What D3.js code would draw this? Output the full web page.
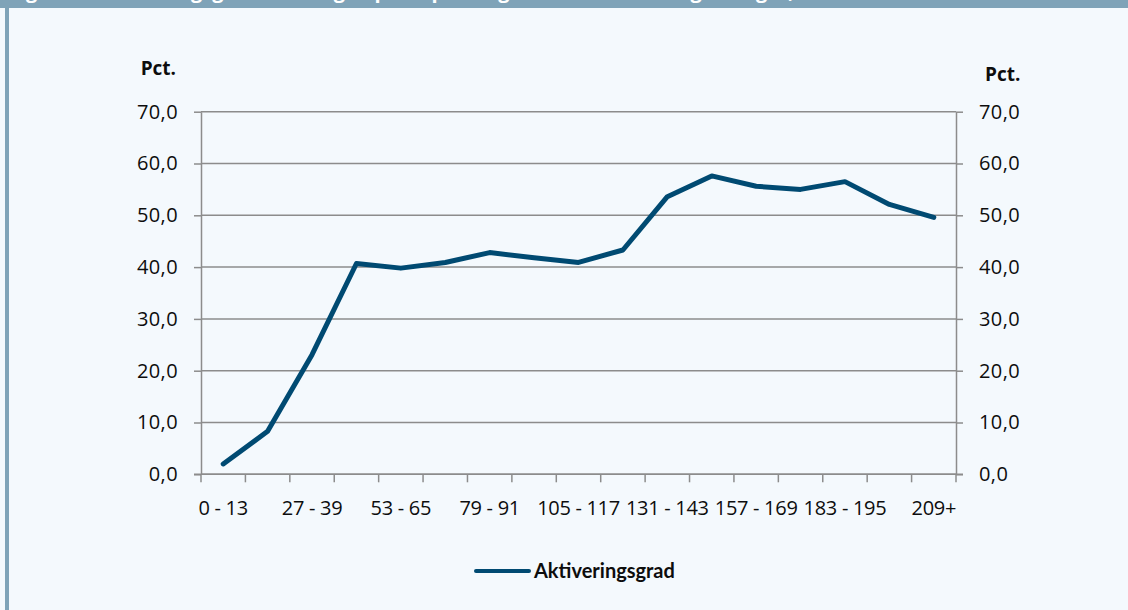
<!DOCTYPE html>
<html>
<head>
<meta charset="utf-8">
<script src="https://cdn.jsdelivr.net/npm/d3@7"></script>
<style>
  body { margin: 0; background: #f4f9fd; }
  svg { display: block; }
</style>
</head>
<body>
<div id="chart"></div>
<script>
// uger i ledighed
let categories = ["0 - 13", "14 - 26", "27 - 39", "40 - 52", "53 - 65", "66 - 78", "79 - 91",
  "92 - 104", "105 - 117", "118 - 130", "131 - 143", "144 - 156", "157 - 169", "170 - 182",
  "183 - 195", "196 - 208", "209+"];
let aktivering = [2.0, 8.3, 23.1, 40.7, 39.8, 40.9, 42.8, 41.8, 40.9, 43.3, 53.6, 57.6, 55.6,
  55.0, 56.5, 52.1, 49.6];
let yTicks = [0, 10, 20, 30, 40, 50, 60, 70];
let seriesName = "Aktiveringsgrad";
let titleText = "Figur 3.1 Aktiveringsgrad for ledige opdelt på ledighedsforløbets længde i uger, 2014";

let width = 1128, height = 610;
let plotLeft = 201, plotRight = 956, plotTop = 111.7, plotBottom = 474.3;
let gridColor = "#8c8c8c", lineColor = "#004a72", frameColor = "#7fa3b8";

let svg = d3.select("#chart").append("svg")
  .attr("width", width)
  .attr("height", height)
  .style("background", "#f4f9fd");

// ramme
svg.append("rect").attr("x", 0).attr("y", 0).attr("width", width).attr("height", 8).attr("fill", frameColor);
svg.append("rect").attr("x", 5).attr("y", 0).attr("width", 4).attr("height", height).attr("fill", frameColor);
svg.append("text")
  .attr("x", 9).attr("y", -2)
  .attr("fill", "#fff")
  .style("font-family", "'Open Sans', sans-serif")
  .style("font-weight", "bold")
  .style("font-size", "20px")
  .text(titleText);

let x = d3.scaleBand().domain(categories).range([plotLeft, plotRight]).paddingInner(0).paddingOuter(0);
let y = d3.scaleLinear().domain([0, 70]).range([plotBottom, plotTop]);
let fmt = d => d.toFixed(1).replace(".", ",");

// gitterlinjer
svg.append("g").selectAll("line")
  .data(yTicks)
  .enter().append("line")
  .attr("x1", plotLeft).attr("x2", plotRight)
  .attr("y1", d => y(d)).attr("y2", d => y(d))
  .attr("stroke", gridColor)
  .attr("stroke-width", 1.5);

let tickFont = g => g.selectAll("text")
  .style("font-family", "'Open Sans', sans-serif")
  .style("font-size", "20px")
  .attr("fill", "#0d0d0d");

let yLeft = svg.append("g")
  .attr("transform", "translate(" + plotLeft + ",0)")
  .call(d3.axisLeft(y).tickValues(yTicks).tickFormat(fmt).tickSize(7).tickPadding(16).tickSizeOuter(0));
let yRight = svg.append("g")
  .attr("transform", "translate(" + plotRight + ",0)")
  .call(d3.axisRight(y).tickValues(yTicks).tickFormat(fmt).tickSize(7).tickPadding(16).tickSizeOuter(0));
[yLeft, yRight].forEach(g => {
  g.select(".domain").attr("stroke", gridColor).attr("stroke-width", 1.5);
  g.selectAll(".tick line").attr("stroke", gridColor).attr("stroke-width", 1.5);
  g.call(tickFont);
  g.selectAll("text").style("letter-spacing", "0.4px");
});

// x-akse: streger ved kategorigrænser, etiketter på hver anden
let xAxis = svg.append("g")
  .attr("transform", "translate(0," + plotBottom + ")")
  .call(d3.axisBottom(x).tickSize(0).tickPadding(27)
    .tickFormat((d, i) => i % 2 === 0 ? d : ""));
xAxis.select(".domain").remove();
xAxis.call(tickFont);
xAxis.selectAll("text").style("letter-spacing", "-0.3px");
let bounds = categories.map(c => x(c)).concat([plotRight]);
xAxis.selectAll(".bound")
  .data(bounds)
  .enter().append("line")
  .attr("class", "bound")
  .attr("x1", d => d).attr("x2", d => d)
  .attr("y1", 0).attr("y2", 8)
  .attr("stroke", gridColor)
  .attr("stroke-width", 1.5);
svg.append("line")
  .attr("x1", plotLeft - 7).attr("x2", plotRight + 7)
  .attr("y1", plotBottom).attr("y2", plotBottom)
  .attr("stroke", gridColor).attr("stroke-width", 1.5);

// Pct. etiketter
svg.append("text").attr("x", 176).attr("y", 75).attr("text-anchor", "end")
  .style("font-family", "'Open Sans', sans-serif").style("font-weight", "bold").style("font-size", "19px")
  .attr("fill", "#0d0d0d").text("Pct.");
svg.append("text").attr("x", 985).attr("y", 81)
  .style("font-family", "'Open Sans', sans-serif").style("font-weight", "bold").style("font-size", "19px")
  .attr("fill", "#0d0d0d").text("Pct.");

// linje
let line = d3.line()
  .x((d, i) => x(categories[i]) + x.bandwidth() / 2)
  .y(d => y(d));
svg.append("path")
  .datum(aktivering)
  .attr("d", line)
  .attr("fill", "none")
  .attr("stroke", lineColor)
  .attr("stroke-width", 5)
  .attr("stroke-linecap", "round")
  .attr("stroke-linejoin", "round");

// forklaring
let legend = svg.append("g").attr("transform", "translate(476,571)");
legend.append("line").attr("x1", 0).attr("x2", 53).attr("y1", 0).attr("y2", 0)
  .attr("stroke", lineColor).attr("stroke-width", 4).attr("stroke-linecap", "round");
legend.append("text").attr("x", 58).attr("y", 7)
  .style("font-family", "Lato, sans-serif").style("font-weight", "bold").style("font-size", "20px")
  .attr("fill", "#0d0d0d").text(seriesName);
</script>
</body>
</html>
